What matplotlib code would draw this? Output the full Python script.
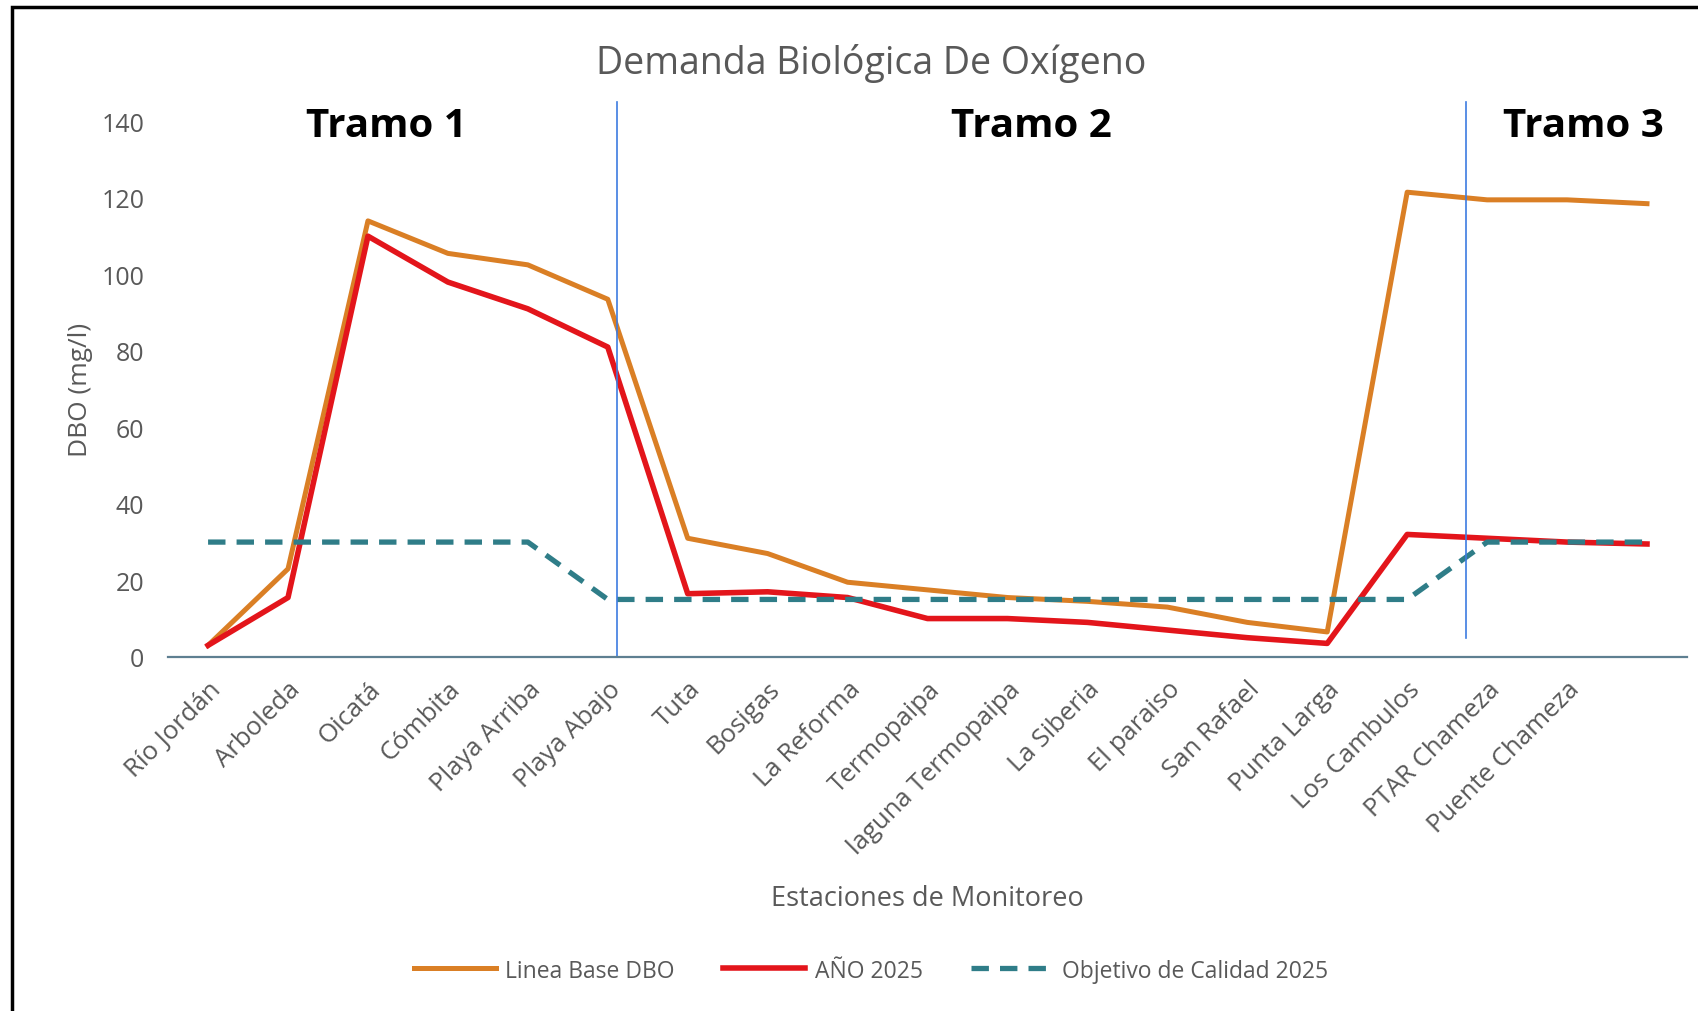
import matplotlib
matplotlib.use("Agg")
import matplotlib.pyplot as plt
from matplotlib.patches import Rectangle

# Estaciones (the last point has no label in the original chart)
estaciones = ["Río Jordán", "Arboleda", "Oicatá", "Cómbita", "Playa Arriba",
              "Playa Abajo", "Tuta", "Bosigas", "La Reforma", "Termopaipa",
              "laguna Termopaipa", "La Siberia", "El paraiso", "San Rafael",
              "Punta Larga", "Los Cambulos", "PTAR Chameza", "Puente Chameza", ""]

linea_base = [3, 23, 114, 105.5, 102.5, 93.5, 31, 27, 19.5, 17.5, 15.5, 14.5,
              13, 9, 6.5, 121.5, 119.5, 119.5, 118.5]
anio_2025 = [3, 15.5, 110, 98, 91, 81, 16.5, 17, 15.5, 10, 10, 9, 7, 5, 3.5,
             32, 31, 30, 29.5]
objetivo = [30, 30, 30, 30, 30, 15, 15, 15, 15, 15, 15, 15, 15, 15, 15, 15,
            30, 30, 30]

tramos = ["Tramo 1", "Tramo 2", "Tramo 3"]
tramo_x = [2.23, 10.3, 17.2]
divisiones = [5.12, 15.73]

plt.rcParams["font.family"] = ["Open Sans", "DejaVu Sans"]
gris = "#595959"

fig = plt.figure(figsize=(16.98, 10.12), dpi=100)
ax = fig.add_axes([0.099, 0.350, 0.8945, 0.529])

x = list(range(len(estaciones)))
ax.plot(x, linea_base, color="#DA7F25", lw=3.6, label="Linea Base DBO",
        solid_joinstyle="round")
ax.plot(x, anio_2025, color="#E3151B", lw=4.0, label="AÑO 2025",
        solid_joinstyle="round")
ax.plot(x, objetivo, color="#2F7D88", lw=3.8, ls=(0, (3.3, 2.1)),
        label="Objetivo de Calidad 2025")

ax.set_xlim(-0.5, len(estaciones) - 0.5)
ax.set_ylim(0, 140)
ax.set_yticks(range(0, 141, 20))
ax.set_xticks(x)
ax.set_xticklabels(estaciones, rotation=45, ha="right", rotation_mode="anchor",
                   fontsize=18.5, color=gris)
ax.tick_params(axis="y", labelsize=18, labelcolor=gris, length=0, pad=17)
ax.tick_params(axis="x", length=0, pad=14)

for s in ["top", "right", "left"]:
    ax.spines[s].set_visible(False)
ax.spines["bottom"].set_color("#5E7F91")
ax.spines["bottom"].set_linewidth(1.6)

# Divisiones de tramos
ax.plot([divisiones[0]] * 2, [0, 145], color="#3D7BE0", lw=1.2, clip_on=False)
ax.plot([divisiones[1]] * 2, [5, 145], color="#3D7BE0", lw=1.2, clip_on=False)
for t, tx in zip(tramos, tramo_x):
    ax.text(tx, 139, t, fontsize=29, fontweight="bold", color="black",
            ha="center", va="center")

ax.set_ylabel("DBO (mg/l)", fontsize=19, color=gris, labelpad=6)
ax.set_xlabel("Estaciones de Monitoreo", fontsize=19.5, color=gris, labelpad=18)
fig.text(0.513, 0.937, "Demanda Biológica De Oxígeno", fontsize=27, color=gris,
         ha="center", va="center")

leg = fig.legend(loc="center", bbox_to_anchor=(0.513, 0.04), ncol=3,
                 frameon=False, fontsize=16.5, handlelength=3.6,
                 handletextpad=0.4, columnspacing=2.1)
for t in leg.get_texts():
    t.set_color(gris)

# Marco exterior
fig.patches.append(Rectangle((0.007, -0.02), 1.02, 1.012, transform=fig.transFigure,
                             fill=False, edgecolor="black", lw=2.5))

fig.savefig("out.png", dpi=100)
